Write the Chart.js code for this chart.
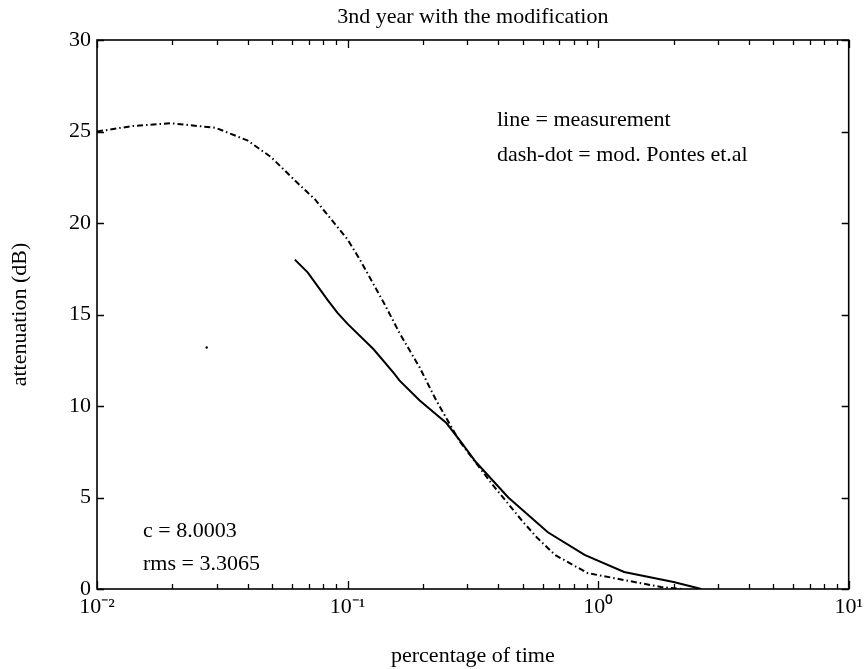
<!DOCTYPE html>
<html><head><meta charset="utf-8">
<script src="https://cdn.jsdelivr.net/npm/chart.js@4"></script>
<style>html,body{margin:0;padding:0;background:#fff}#wrap{width:868px;height:669px}</style>
</head><body><div id="wrap"><canvas id="c" width="868" height="669"></canvas></div>
<script>
// ---- data ----
const titleText = '3nd year with the modification';
const xLabel = 'percentage of time';
const yLabel = 'attenuation (dB)';

const measX = [0.0616, 0.0693, 0.0832, 0.091, 0.0998, 0.127, 0.153, 0.161, 0.194, 0.248, 0.284, 0.325, 0.438, 0.63, 0.883, 1.27, 2.0, 2.58];
const measY = [18.0, 17.3, 15.8, 15.1, 14.5, 13.1, 11.8, 11.4, 10.3, 9.07, 8.03, 6.94, 5.0, 3.1, 1.86, 0.93, 0.38, 0];

const modelX = [0.01, 0.0139, 0.0198, 0.0298, 0.040, 0.0495, 0.063, 0.074, 0.1, 0.112, 0.14, 0.161, 0.194, 0.226, 0.279, 0.325, 0.379, 0.435, 0.499, 0.571, 0.673, 0.908, 1.27, 1.78, 2.15];
const modelY = [25.0, 25.3, 25.45, 25.2, 24.5, 23.6, 22.2, 21.3, 19.1, 18.0, 15.6, 14.0, 12.1, 10.3, 8.1, 6.9, 5.7, 4.7, 3.7, 2.8, 1.86, 0.87, 0.49, 0.11, 0];

const dotX = [0.0274];
const dotY = [13.2];

const xTickValues = [0.01,0.02,0.03,0.04,0.05,0.06,0.07,0.08,0.09,
                     0.1,0.2,0.3,0.4,0.5,0.6,0.7,0.8,0.9,
                     1,2,3,4,5,6,7,8,9,10];
const xMajorValues = [0.01, 0.1, 1, 10];
const xMajorLabels = ['10\u207B\u00B2', '10\u207B\u00B9', '10\u2070', '10\u00B9'];
const yTickValues = [0, 5, 10, 15, 20, 25, 30];

const noteLines = ['line = measurement', 'dash-dot = mod. Pontes et.al'];
const statLines = ['c = 8.0003', 'rms = 3.3065'];

// ---- chart ----
const FONT = '"Liberation Serif", "Times New Roman", serif';
const FS = 22;
const toPts = (xs, ys) => xs.map((x, i) => ({x: x, y: ys[i]}));

const framePlugin = {
  id: 'frame',
  afterDatasetsDraw(chart) {
    const ctx = chart.ctx, ca = chart.chartArea;
    const xs = chart.scales.x, ys = chart.scales.y;
    ctx.save();
    ctx.strokeStyle = '#000';
    ctx.lineWidth = 1.6;
    ctx.strokeRect(ca.left, ca.top, ca.right - ca.left, ca.bottom - ca.top);
    ctx.lineWidth = 1.3;
    ctx.beginPath();
    xTickValues.forEach(v => {
      const px = Math.round(xs.getPixelForValue(v)) + 0.5;
      const len = xMajorValues.includes(v) ? 8 : 5;
      ctx.moveTo(px, ca.bottom); ctx.lineTo(px, ca.bottom - len);
      ctx.moveTo(px, ca.top); ctx.lineTo(px, ca.top + len);
    });
    yTickValues.forEach(v => {
      const py = Math.round(ys.getPixelForValue(v)) + 0.5;
      ctx.moveTo(ca.left, py); ctx.lineTo(ca.left + 7, py);
      ctx.moveTo(ca.right, py); ctx.lineTo(ca.right - 7, py);
    });
    ctx.stroke();
    ctx.fillStyle = '#000';
    ctx.font = FS + 'px ' + FONT;
    ctx.textAlign = 'left';
    ctx.textBaseline = 'middle';
    noteLines.forEach((t, i) => ctx.fillText(t, ca.left + 400, ca.top + 80 + i * 35));
    statLines.forEach((t, i) => ctx.fillText(t, ca.left + 46, ca.bottom - 58 + i * 33));
    ctx.restore();
  }
};

new Chart(document.getElementById('c'), {
  type: 'line',
  data: {
    datasets: [
      { label: 'measurement', data: toPts(measX, measY), borderColor: '#000', borderWidth: 2, pointRadius: 0, tension: 0, fill: false },
      { label: 'mod. Pontes et.al', data: toPts(modelX, modelY), borderColor: '#000', borderWidth: 2, borderDash: [6, 3, 1.5, 3], pointRadius: 0, tension: 0, fill: false },
      { label: 'dot', data: toPts(dotX, dotY), showLine: false, pointRadius: 1.2, pointBackgroundColor: '#000', pointBorderWidth: 0 }
    ]
  },
  options: {
    responsive: false,
    animation: false,
    devicePixelRatio: 1,
    layout: { padding: { left: 0, right: 11, top: 0, bottom: 0 } },
    plugins: {
      legend: { display: false },
      tooltip: { enabled: false },
      title: {
        display: true, text: titleText, color: '#000', fullSize: false,
        font: { family: FONT, size: FS, weight: 'normal', lineHeight: 1.2 },
        padding: { top: 4, bottom: 9.6 }
      }
    },
    scales: {
      x: {
        type: 'logarithmic', min: 0.01, max: 10,
        grid: { display: false, drawTicks: false },
        border: { display: false },
        afterBuildTicks: (s) => { s.ticks = xTickValues.map(v => ({ value: v, major: xMajorValues.includes(v) })); },
        afterFit: (s) => { s.height = 80; },
        ticks: {
          autoSkip: false, maxRotation: 0, minRotation: 0, padding: 5, color: '#000',
          font: { family: FONT, size: FS, lineHeight: 1.2 },
          callback: (v) => { const i = xMajorValues.findIndex(m => Math.abs(m - v) < m * 1e-6); return i >= 0 ? xMajorLabels[i] : ''; }
        },
        title: { display: true, text: xLabel, color: '#000', font: { family: FONT, size: FS, lineHeight: 1.2 }, padding: { top: 0, bottom: 0 } }
      },
      y: {
        min: 0, max: 30,
        grid: { display: false, drawTicks: false },
        border: { display: false },
        afterBuildTicks: (s) => { s.ticks = yTickValues.map(v => ({ value: v })); },
        afterFit: (s) => { s.width = 97; },
        ticks: { padding: 6, color: '#000', font: { family: FONT, size: FS, lineHeight: 1.2 } },
        title: { display: true, text: yLabel, color: '#000', font: { family: FONT, size: FS, lineHeight: 1.2 }, padding: { top: 7, bottom: 0 } }
      }
    }
  },
  plugins: [framePlugin]
});
</script>
</body></html>
